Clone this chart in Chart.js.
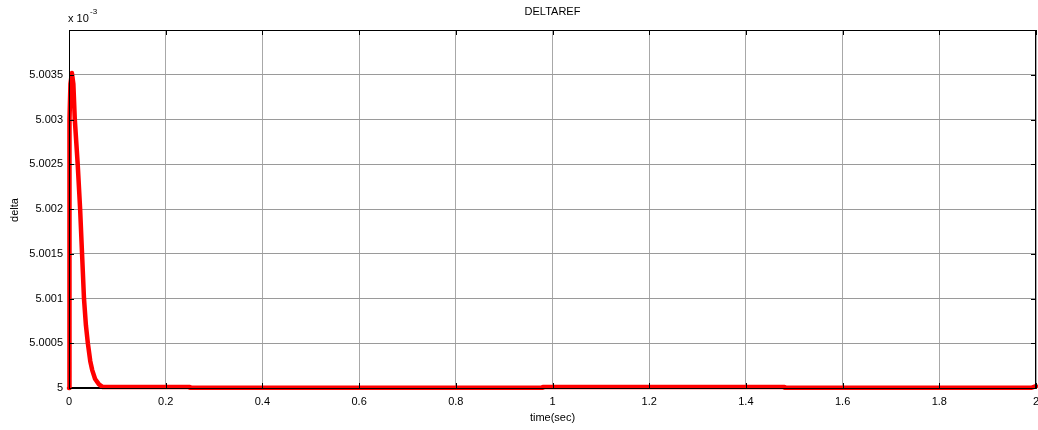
<!DOCTYPE html>
<html>
<head>
<meta charset="utf-8">
<script src="https://cdn.jsdelivr.net/npm/chart.js@4"></script>
<style>
  html, body { margin: 0; padding: 0; background: #fff; }
  canvas { display: block; }
</style>
</head>
<body>
<canvas id="chartDelta" width="1038" height="430"></canvas>
<script>
// time (sec) and delta values, y in units of 1e-3
const timeSec = [0, 0.001, 0.003, 0.006, 0.009, 0.012, 0.018, 0.023, 0.027, 0.031, 0.035, 0.039, 0.044, 0.048, 0.054, 0.062, 0.07, 0.25, 0.25, 0.98, 0.98, 1.48, 1.48, 1.99, 2];
const deltaRef = [5, 5.003, 5.0034, 5.00352, 5.0034, 5.003, 5.0025, 5.002, 5.0015, 5.001, 5.0007, 5.0005, 5.0003, 5.0002, 5.0001, 5.00004, 5.00001, 5.00001, 5.000002, 5.000002, 5.00001, 5.00001, 5.000002, 5.000002, 5.00002];
const baseTime = [0, 2];
const baseLevel = [5, 5];

const xTicks = [0, 0.2, 0.4, 0.6, 0.8, 1, 1.2, 1.4, 1.6, 1.8, 2];
const yMin = 5, yMax = 5.004, yStep = 0.0005;

const FONT = '"Liberation Sans", Arial, sans-serif';

const toPoints = (xs, ys) => xs.map((x, i) => ({ x: x, y: ys[i] }));

// frame, inward tick marks and texts like a matlab figure
const matlabFrame = {
  id: 'matlabFrame',
  afterDraw(chart) {
    const { ctx, chartArea: a, scales } = chart;
    ctx.save();
    ctx.strokeStyle = '#000';
    ctx.lineWidth = 1;
    ctx.strokeRect(a.left + 0.5, a.top + 0.5, a.right - a.left - 1, a.bottom - a.top);

    const len = 5;
    ctx.beginPath();
    xTicks.forEach(t => {
      const px = Math.round(scales.x.getPixelForValue(t)) + 0.5;
      ctx.moveTo(px, a.bottom); ctx.lineTo(px, a.bottom - len);
      ctx.moveTo(px, a.top); ctx.lineTo(px, a.top + len);
    });
    for (let v = yMin; v <= yMax + 1e-9; v += yStep) {
      const py = Math.round(scales.y.getPixelForValue(v)) + 0.5;
      ctx.moveTo(a.left, py); ctx.lineTo(a.left + len, py);
      ctx.moveTo(a.right, py); ctx.lineTo(a.right - len, py);
    }
    ctx.stroke();

    ctx.fillStyle = '#000';
    ctx.textBaseline = 'middle';
    ctx.textAlign = 'center';
    ctx.font = '11px ' + FONT;
    const cx = (a.left + a.right) / 2;
    ctx.fillText('DELTAREF', cx, 12);
    ctx.fillText('time(sec)', cx, 418);

    ctx.textAlign = 'left';
    ctx.fillText('x 10', a.left - 1, 19);
    ctx.font = '8px ' + FONT;
    ctx.fillText('-3', a.left + 21, 12);

    ctx.font = '11px ' + FONT;
    ctx.translate(15, 210);
    ctx.rotate(-Math.PI / 2);
    ctx.textAlign = 'center';
    ctx.fillText('delta', 0, 0);
    ctx.restore();
  }
};

new Chart(document.getElementById('chartDelta').getContext('2d'), {
  type: 'line',
  data: {
    datasets: [
      {
        label: 'ref',
        data: toPoints(baseTime, baseLevel),
        borderColor: '#000',
        borderWidth: 2,
        pointRadius: 0,
        tension: 0,
        order: 2
      },
      {
        label: 'delta',
        data: toPoints(timeSec, deltaRef),
        borderColor: '#ff0000',
        borderWidth: 4.5,
        borderJoinStyle: 'round',
        borderCapStyle: 'round',
        pointRadius: 0,
        tension: 0,
        clip: 3,
        order: 1
      }
    ]
  },
  options: {
    responsive: false,
    animation: false,
    devicePixelRatio: 1,
    layout: { padding: { top: 30, right: 2, left: 0, bottom: 0 } },
    plugins: {
      legend: { display: false },
      tooltip: { enabled: false }
    },
    scales: {
      x: {
        type: 'linear',
        min: 0,
        max: 2,
        afterFit: s => { s.height = 42; s.paddingLeft = 0; s.paddingRight = 0; },
        afterBuildTicks: s => { s.ticks = xTicks.map(v => ({ value: v })); },
        grid: { color: '#a8a8a8', lineWidth: 1, drawTicks: false },
        border: { display: true, color: '#000' },
        ticks: {
          padding: 7,
          maxRotation: 0,
          autoSkip: false,
          color: '#000',
          font: { family: FONT, size: 11 },
          callback: v => Number(v.toFixed(1)).toString()
        }
      },
      y: {
        type: 'linear',
        min: yMin,
        max: yMax,
        afterFit: s => { s.width = 69; s.paddingTop = 0; s.paddingBottom = 0; },
        grid: { color: '#9a9a9a', lineWidth: 1, drawTicks: false },
        border: { display: true, color: '#000' },
        ticks: {
          stepSize: yStep,
          padding: 6,
          color: '#000',
          font: { family: FONT, size: 11 },
          callback: v => (v > yMax - 1e-6 ? '' : Number(v.toFixed(4)).toString())
        }
      }
    }
  },
  plugins: [matlabFrame]
});
</script>
</body>
</html>
